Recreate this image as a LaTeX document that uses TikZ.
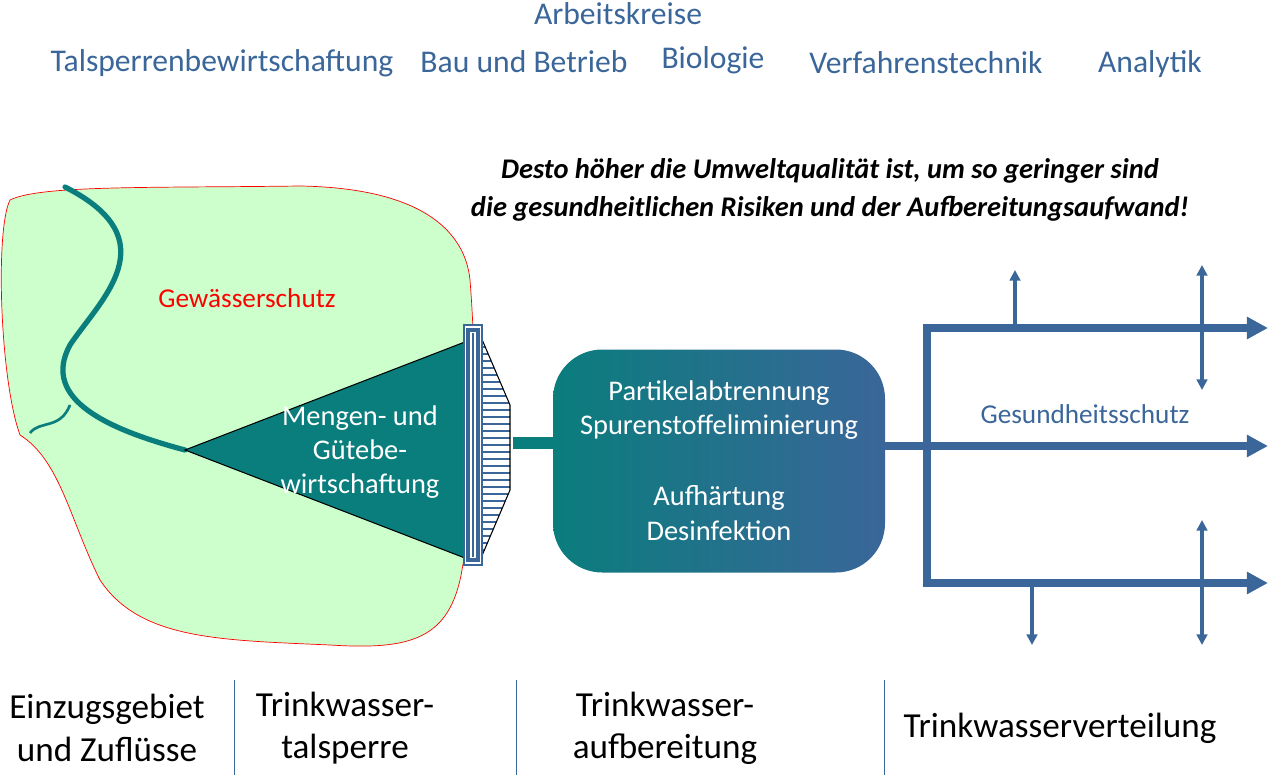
\documentclass[tikz,border=0pt]{standalone}
\usepackage{fontspec}
\setmainfont{Carlito}
\usetikzlibrary{arrows.meta, positioning}
\definecolor{akblue}{HTML}{3A6699}
\definecolor{teal2}{HTML}{0A7D7D}
\definecolor{landgreen}{HTML}{CCFFCC}
\tikzset{
  ak/.style={text=akblue, font=\fontsize{18}{20}\selectfont, inner sep=0pt},
  stage/.style={font=\fontsize{20}{24}\selectfont, align=center, inner sep=0pt},
  boxtext/.style={text=white, font=\fontsize{16.2}{19.5}\selectfont, align=center, inner sep=0pt},
  pipe/.style={akblue, line width=4pt, -{Triangle[length=12pt,width=12pt]}},
  tap/.style={akblue, line width=1.8pt, -{Triangle[length=6pt,width=6pt]}},
  sep/.style={akblue, line width=0.5pt},
}
\begin{document}
\begin{tikzpicture}[x=0.02cm, y=-0.02cm]
  \useasboundingbox (0,0) rectangle (1268,777);
  % header
  \node[ak] (ak) at (618,14) {Arbeitskreise};
  \node[ak] (k1) at (222,63) {Talsperrenbewirtschaftung};
  \node[ak] (k2) at (524,62) {Bau und Betrieb};
  \node[ak] (k3) at (713,60) {Biologie};
  \node[ak] (k4) at (926,63) {Verfahrenstechnik};
  \node[ak] (k5) at (1150,64) {Analytik};
  \node[font=\bfseries\itshape\fontsize{16.2}{22}\selectfont, align=center, inner sep=0pt] (motto) at (830,190)
    {Desto höher die Umweltqualität ist, um so geringer sind\\die gesundheitlichen Risiken und der Aufbereitungsaufwand!};
  % catchment
  \draw[red, line width=0.4pt, fill=landgreen]
    (10,200) .. controls (40,185) and (150,188) .. (300,186)
    .. controls (420,188) and (465,230) .. (470,280)
    .. controls (478,380) and (475,500) .. (462,570)
    .. controls (450,640) and (410,650) .. (330,645)
    .. controls (220,640) and (140,640) .. (100,580)
    .. controls (70,520) and (60,460) .. (20,435)
    .. controls (0,380) and (-5,230) .. (10,200) -- cycle;
  \node[red, font=\fontsize{15.5}{18}\selectfont, inner sep=0pt] (gs) at (247,298) {Gewässerschutz};
  \draw[teal2, line width=3pt, line cap=round]
    (65,187) .. controls (170,240) and (100,300) .. (70,345)
    .. controls (40,400) and (110,430) .. (185,450);
  \draw[teal2, line width=1.5pt] (30,433) .. controls (40,420) and (60,430) .. (70,405);
  % reservoir
  \draw[fill=teal2, line width=0.6pt] (185,450) -- (470,340) -- (470,560) -- cycle;
  \node[boxtext] (mg) at (360,452) {Mengen- und\\Gütebe-\\wirtschaftung};
  \begin{scope}
    \clip (478,330) -- (510,405) -- (510,490) -- (478,565) -- cycle;
    \fill[white] (470,320) rectangle (515,570);
    \foreach \y in {340,347,...,560} {
      \draw[akblue, line width=1pt] (478,\y) -- (512,\y);
    }
  \end{scope}
  \draw[line width=0.6pt] (478,330) -- (510,405) -- (510,490) -- (478,565);
  \draw[akblue, line width=1pt, fill=white] (464,325) rectangle (482,565);
  \draw[akblue, line width=2pt, fill=white] (468,330) rectangle (478,560);
  \draw[akblue, line width=1.2pt] (473,333) -- (473,557);
  % treatment
  \coordinate (damout) at (513,443);
  \node[rounded corners=28pt, left color=teal2, right color=akblue, minimum width=332*0.02cm,
        minimum height=223*0.02cm, inner sep=0pt] (plant) at (719,461) {};
  \draw[teal2, line width=7pt] (damout) -- (plant.west |- damout);
  \node[boxtext] (t1) at (719,410) {Partikelabtrennung\\Spurenstoffeliminierung};
  \node[boxtext] (t2) at (719,513) {Aufhärtung\\Desinfektion};
  % distribution
  \coordinate (pout) at (885,446);
  \coordinate (jtop) at (927,328);
  \coordinate (jbot) at (927,583);
  \coordinate (etop) at (1268,328);
  \coordinate (emid) at (1268,446);
  \coordinate (ebot) at (1268,583);
  \draw[pipe] (pout) -- (emid);
  \draw[pipe] (jbot) -- (jtop) -- (etop);
  \draw[pipe] (jtop |- jbot) -- (ebot);
  \draw[akblue, line width=4pt] (jtop) -- ++(0,-4) (jbot) -- ++(0,4);
  \node[ak, font=\fontsize{15.5}{18}\selectfont] (ges) at (1085,414) {Gesundheitsschutz};
  \coordinate (a1) at (1015,325); \coordinate (a1e) at (1015,270);
  \coordinate (a2) at (1202,390); \coordinate (a2e) at (1202,265);
  \coordinate (a3) at (1032,585); \coordinate (a3e) at (1032,645);
  \coordinate (a4) at (1202,645); \coordinate (a4e) at (1202,520);
  \draw[tap] (a1) -- (a1e);
  \draw[tap, {Triangle[length=6pt,width=6pt]}-{Triangle[length=6pt,width=6pt]}] (a2) -- (a2e);
  \draw[tap] (a3) -- (a3e);
  \draw[tap, {Triangle[length=6pt,width=6pt]}-{Triangle[length=6pt,width=6pt]}] (a4) -- (a4e);
  % stages
  \node[stage] (s1) at (107,728) {Einzugsgebiet\\und Zuflüsse};
  \node[stage] (s2) at (345,728) {Trinkwasser-\\talsperre};
  \node[stage] (s3) at (665,728) {Trinkwasser-\\aufbereitung};
  \node[stage] (s4) at (1060,728) {Trinkwasserverteilung};
  \foreach \x in {234,516,884} {
    \draw[sep] (\x,680) -- (\x,775);
  }
\end{tikzpicture}
\end{document}
